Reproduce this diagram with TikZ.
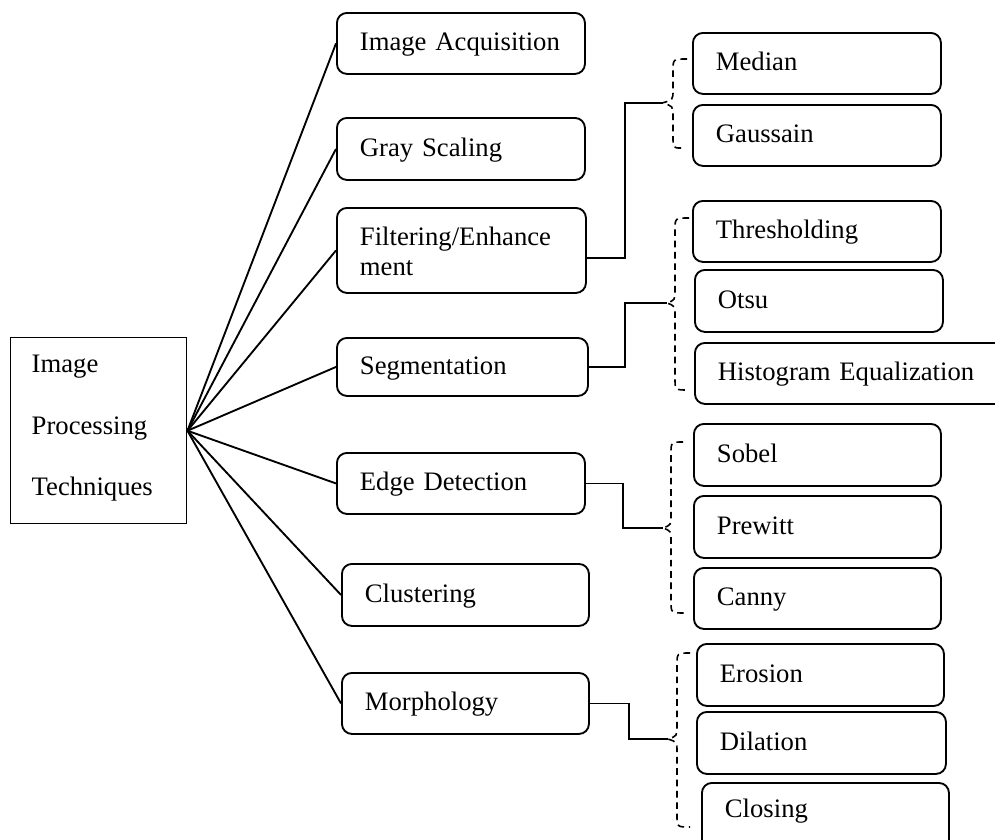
\documentclass[tikz,border=0pt]{standalone}
\usepackage{fontspec}
\setmainfont{Liberation Serif}
\usetikzlibrary{calc}
\newcommand\IPfont{\fontsize{20}{22.5}\selectfont\spaceskip 5pt\relax}
\newcommand\IPbox[7][]{%
  \pgfmathsetmacro\IPw{(#5-#3)*0.75-34.5}%
  \pgfmathsetmacro\IPh{(#6-#4)*0.75}%
  \node[box, #1, text width=\IPw pt, minimum height=\IPh pt] (#2) at (#3,#4) {#7};}
\newcommand\IPbrace[7]{%
  \draw[brace] (#1,#2) .. controls (#3,#2) .. (#3,#2+12) -- (#3,#5-13)
    .. controls (#3,#5-3) .. (#4) .. controls (#3,#5+3) .. (#3,#5+13)
    -- (#3,#7-12) .. controls (#3,#7) .. (#6,#7);}
\begin{document}
\begin{tikzpicture}[x=0.75pt,y=-0.75pt,
  box/.style={draw, line width=1.4pt, rounded corners=7.5pt, anchor=north west,
    inner xsep=17.25pt, inner ysep=0pt, align=left, text height=16pt, text depth=4.8pt,
    font=\IPfont},
  ln/.style={line width=1.4pt},
  brace/.style={line width=1.2pt, dash pattern=on 5pt off 3.5pt},
]
\clip (0,0) rectangle (995,839);
\fill[white] (0,0) rectangle (995,839);

% root
\node[draw, line width=1.1pt, anchor=north west, minimum width=132pt, minimum height=139.5pt,
  inner xsep=15.75pt, inner ysep=0pt, text width=100.5pt, align=left,
  text height=16pt, text depth=103pt, font=\fontsize{20}{46.1}\selectfont]
  (root) at (10,337) {Image\\Processing\\Techniques};

% first level
\IPbox{acq}{336}{12}{584}{73}{Image Acquisition}
\IPbox{gray}{336}{117}{584}{179}{Gray Scaling}
\IPbox[text depth=22.75pt]{filt}{336}{207}{585}{292}{Filtering/Enhance\\ment}
\IPbox{seg}{336}{337}{587}{395}{Segmentation}
\IPbox{edge}{336}{452}{584}{513}{Edge Detection}
\IPbox{clus}{341}{563}{588}{625}{Clustering}
\IPbox{morph}{341}{672}{588}{733}{Morphology}

% second level
\IPbox{median}{692}{32}{940}{93}{Median}
\IPbox{gauss}{692}{104}{940}{165}{Gaussain}
\IPbox{thresh}{692}{200}{940}{261}{Thresholding}
\IPbox{otsu}{694}{269}{942}{331}{Otsu}
\IPbox{hist}{694}{342}{1015}{403}{Histogram Equalization}
\IPbox{sobel}{693}{423}{940}{485}{Sobel}
\IPbox{prewitt}{693}{495}{940}{557}{Prewitt}
\IPbox{canny}{693}{567}{940}{628}{Canny}
\IPbox{erosion}{696}{643}{943}{705}{Erosion}
\IPbox{dilation}{696}{711}{945}{773}{Dilation}
\IPbox[text depth=29.5pt]{closing}{701}{782}{948}{870}{Closing}

% fan connectors
\foreach \t in {acq,gray,filt,seg,edge,clus,morph}
  \draw[ln] (root.east) -- (\t.west);

% brace cusps
\coordinate (c1) at (662,103);
\coordinate (c2) at (667,303);
\coordinate (c3) at (663,528);
\coordinate (c4) at (668,739);

% elbow connectors
\draw[ln] ($(filt.east)+(0,7.5)$) -- ++(38,0) |- (c1);
\draw[ln] (seg.east) -- ++(36,0) |- (c2);
\draw[ln] (edge.east) -- ++(37,0) |- (c3);
\draw[ln] (morph.east) -- ++(39,0) |- (c4);

% dashed braces
\IPbrace{687}{59}{673}{c1}{103}{681}{148}
\IPbrace{689}{218}{675}{c2}{303}{688}{390}
\IPbrace{683}{442}{671}{c3}{528}{685}{613}
\IPbrace{690}{653}{677}{c4}{739}{690}{827}
\end{tikzpicture}
\end{document}
